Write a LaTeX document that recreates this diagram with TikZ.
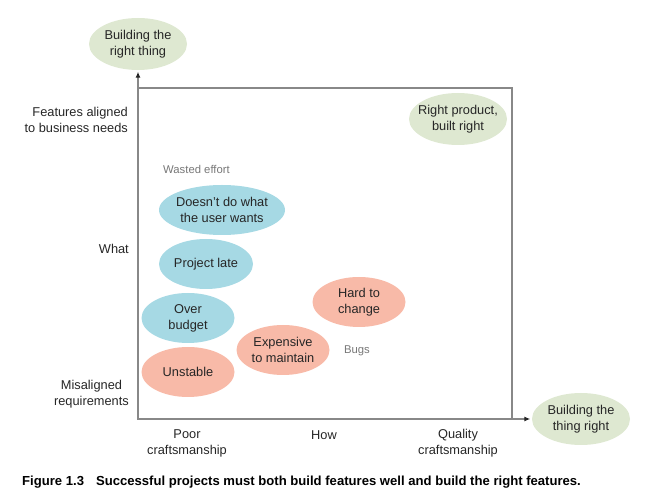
\documentclass[tikz,border=0pt]{standalone}
\usepackage{fontspec}
\setmainfont{Liberation Sans}
\usetikzlibrary{arrows.meta,shapes.geometric}
\definecolor{goalgreen}{HTML}{DEE8D1}
\definecolor{wasteblue}{HTML}{A6D9E4}
\definecolor{bugsalmon}{HTML}{F8BAA8}
\definecolor{axisgray}{HTML}{888888}
\definecolor{inkdark}{HTML}{262626}
\definecolor{notegray}{HTML}{777777}
\tikzstyle{blob}=[ellipse, inner xsep=-9pt, inner ysep=-4pt, minimum width=94pt, minimum height=50pt, align=center, text=inkdark]
\tikzstyle{goal}=[blob, fill=goalgreen, minimum width=98pt, minimum height=52pt]
\tikzstyle{waste}=[blob, fill=wasteblue]
\tikzstyle{bug}=[blob, fill=bugsalmon]
\tikzstyle{lbl}=[align=center, text=inkdark, inner sep=0pt]
\tikzstyle{note}=[text=notegray, inner sep=0pt, font=\fontsize{11.3}{13}\selectfont]
\newcommand{\blob}{\node[blob]}
\newcommand{\lbl}{\node[lbl]}

\begin{document}
\begin{tikzpicture}[x=1pt, y=-1pt
  ,every node/.style={font=\fontsize{12.8}{16}\selectfont}
  ,axis/.style={draw=axisgray, line width=1.1pt, -{Latex[length=6pt, width=5pt, inkdark]}, shorten >=1.5pt}
]
\useasboundingbox (0,0) rectangle (651,502);
\coordinate (o) at (138,419);
\coordinate (tr) at (512,88);
\draw[axisgray, line width=1.1pt] (o) rectangle (tr);
% the two goals
\node[goal] (what) at (138,44) {Building the\\right thing};
\node[goal] (how) at (581,419) {Building the\\thing right};
\node[goal] (best) at (458,119) {Right product,\\built right};
\path[axis] (o) -- (what.south);
\path[axis] (o) -- (how.west);
% axis labels
\lbl[anchor=east, align=right] (aligned) at (128,120) {Features aligned\\to business needs};
\lbl[anchor=east] (whatlbl) at (129,249) {What};
\lbl[anchor=east] (misaligned) at (129,394) {Misaligned\\requirements};
\lbl (poor) at (187,443) {Poor\\craftsmanship};
\lbl (howlbl) at (324,435) {How};
\lbl (quality) at (458,443) {Quality\\craftsmanship};
% wasted effort
\node[note, anchor=west] (wasted) at (163,169) {Wasted effort};
\node[waste, minimum width=126pt] (wants) at (222,210) {Doesn't do what\\the user wants};
\node[waste] (late) at (206,264) {Project late};
\node[waste, minimum width=93pt] (budget) at (188,318) {Over\\budget};
% bugs
\node[bug, minimum width=93pt] (unstable) at (188,372) {Unstable};
\node[bug, minimum width=93pt] (expensive) at (283,350) {Expensive\\to maintain};
\node[bug, minimum width=93pt] (hard) at (359,302) {Hard to\\change};
\node[note] (bugs) at (357,351) {Bugs};
% caption
\node[anchor=west, inner sep=0pt, font=\fontsize{13.1}{15}\selectfont\bfseries] (caption) at (22,482)
  {Figure 1.3\hspace{12pt}Successful projects must both build features well and build the right features.};
\end{tikzpicture}
\end{document}
